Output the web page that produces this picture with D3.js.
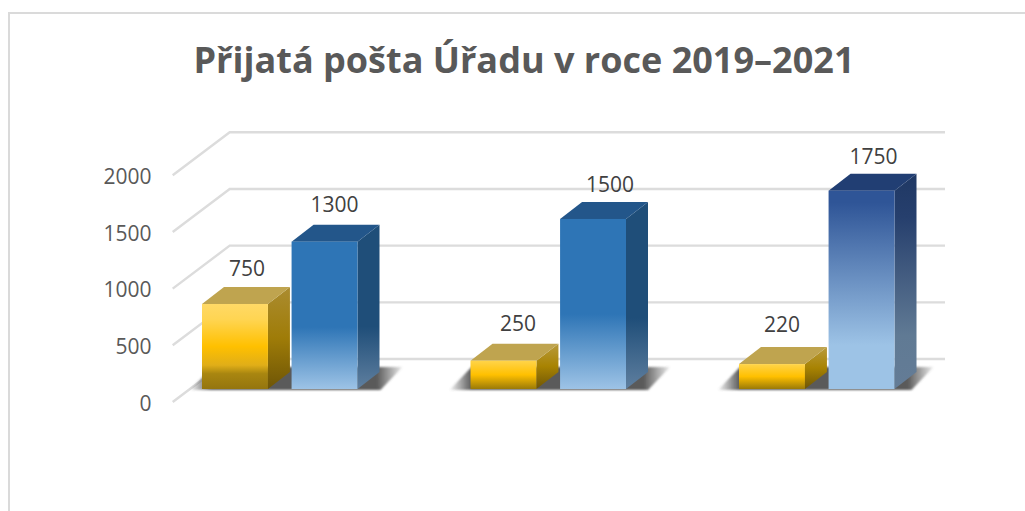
<!DOCTYPE html>
<html><head><meta charset="utf-8">
<script src="https://cdn.jsdelivr.net/npm/d3@7"></script>
<style>html,body{margin:0;padding:0;background:#fff;overflow:hidden}svg{display:block}</style>
</head><body><div id="c"></div>
<script>
const title = "Přijatá pošta Úřadu v roce 2019–2021";
const categories = ["2019", "2020", "2021"];
const seriesNames = ["a", "b"];
const seriesA = [750, 250, 220];
const seriesB = [1300, 1500, 1750];
const yTicks = [0, 500, 1000, 1500, 2000];

const W = 1025, H = 511;
const svg = d3.select("#c").append("svg").attr("width", W).attr("height", H);
const defs = svg.append("defs");
const y = d3.scaleLinear().domain([0, 2000]).range([389, 162.3]);
const x0 = d3.scaleBand().domain(categories).range([145.5, 951]);
const x1 = d3.scaleBand().domain(seriesNames).range([56.5, 212]).paddingInner(0.264);
const dx = 22, dy = -17, backDx = 57, backDy = -30, leftX = 172.7;
// label nudges relative to the front-top edge of each bar: [dx, dy]
const labelNudge = [[[12,-28.3],[10,-29.5]],[[14.5,-30],[17,-27]],[[10,-31.7],[12,-27]]];
// how far each floor shadow reaches left of / right of the group
const shadowReach = [[12,45],[21,44],[21,39]];

function grad(id, stops, horizontal) {
  const g = defs.append("linearGradient").attr("id", id).attr("x1", 0).attr("y1", 0)
    .attr("x2", horizontal ? 1 : 0).attr("y2", horizontal ? 0 : 1);
  stops.forEach(s => g.append("stop").attr("offset", s[0]).attr("stop-color", s[1]).attr("stop-opacity", s[2] === undefined ? 1 : s[2]));
}
const front = [
  [[[0,"#ffd966"],[.18,"#ffd552"],[.5,"#ffc000"],[.72,"#e0ae18"],[.82,"#a98610"],[1,"#94750f"]],
   [[0,"#2e75b6"],[.58,"#2e75b6"],[1,"#9dc3e6"]]],
  [[[0,"#ffd44a"],[.5,"#ffc000"],[1,"#9a7a08"]],
   [[0,"#2e75b6"],[.56,"#2e75b6"],[1,"#9dc3e6"]]],
  [[[0,"#ffd44a"],[.5,"#ffc000"],[1,"#9a7a08"]],
   [[0,"#2f5597"],[.06,"#2f5597"],[.78,"#9dc3e6"],[1,"#9dc3e6"]]]
];
const side = [
  [[[0,"#ab8c30"],[.5,"#9f7c08"],[1,"#6e5506"]],
   [[0,"#1f4e79"],[.62,"#1f4e79"],[1,"#5f7f9f"]]],
  [[[0,"#b89a3c"],[.5,"#a88302"],[1,"#6e5506"]],
   [[0,"#1f4e79"],[.62,"#1f4e79"],[1,"#5f7f9f"]]],
  [[[0,"#b89a3c"],[.5,"#a88302"],[1,"#6e5506"]],
   [[0,"#1f3864"],[.2,"#263f6d"],[.75,"#607a94"],[1,"#647c96"]]]
];
const topCol = [["#bfa44f","#23568a"],["#bfa44f","#23568a"],["#bfa44f","#213e73"]];
front.forEach((r,i)=>r.forEach((s,j)=>grad(`f${i}${j}`,s)));
side.forEach((r,i)=>r.forEach((s,j)=>grad(`s${i}${j}`,s)));
grad("sh",[[0,"#5a5a5a",.05],[.1,"#5a5a5a",1],[.88,"#5a5a5a",1],[1,"#5a5a5a",.1]],true);

const blur = defs.append("filter").attr("id","bl").attr("x","-20%").attr("y","-30%").attr("width","140%").attr("height","160%");
blur.append("feGaussianBlur").attr("stdDeviation",1.2);

// frame
svg.append("path").attr("d",`M9 ${H}V13H${W}`).attr("fill","none").attr("stroke","#dadada").attr("stroke-width",2);

// title
svg.append("text").attr("x",524).attr("y",73.3).attr("text-anchor","middle")
  .attr("font-family","'Open Sans'").attr("font-weight",700).attr("font-size",36.4)
  .attr("textLength",661).attr("lengthAdjust","spacingAndGlyphs")
  .attr("fill","#595959").text(title);

// gridlines
const grid = svg.append("g").attr("fill","none").attr("stroke","#dcdcdc").attr("stroke-width",2.4);
grid.selectAll("path").data(yTicks).join("path")
  .attr("d",v=>`M${leftX} ${y(v)+13}L${leftX+backDx} ${y(v)+backDy}H945`);

// y axis
const ax = svg.append("g").attr("transform","translate(151.5,14.5)")
  .call(d3.axisLeft(y).tickValues(yTicks).tickSize(0).tickPadding(0).tickFormat(d3.format("d")));
ax.select(".domain").remove();
ax.selectAll("text").attr("font-family","'Open Sans'").attr("font-size",21).attr("fill","#595959");

// floor shadows
const poly = pts => "M"+pts.map(p=>p.join(" ")).join("L")+"Z";
svg.append("g").selectAll("path").data(categories).join("path")
  .attr("filter","url(#bl)").attr("fill","url(#sh)")
  .attr("d",(c,i)=>{
    const l = x0(c)+x1("a"), r = x0(c)+x1("b")+x1.bandwidth();
    const [a,b] = shadowReach[i];
    return poly([[l-a,390],[r+b-22,390],[r+b,367],[l-a+22,367]]);
  });

// bars
const rows = categories.flatMap((c,i)=>[
  {c,i,j:0,s:"a",v:seriesA[i]},{c,i,j:1,s:"b",v:seriesB[i]}]);
const bw = x1.bandwidth();
const bars = svg.append("g").selectAll("g").data(rows).join("g")
  .attr("transform",d=>`translate(${x0(d.c)+x1(d.s)},0)`);
bars.append("path").attr("fill",d=>`url(#s${d.i}${d.j})`)
  .attr("d",d=>poly([[bw,y(d.v)],[bw+dx,y(d.v)+dy],[bw+dx,y(0)+dy],[bw,y(0)]]));
bars.append("path").attr("fill",d=>topCol[d.i][d.j])
  .attr("d",d=>poly([[0,y(d.v)],[dx,y(d.v)+dy],[bw+dx,y(d.v)+dy],[bw,y(d.v)]]));
bars.append("rect").attr("x",0).attr("width",bw).attr("y",d=>y(d.v)).attr("height",d=>y(0)-y(d.v))
  .attr("fill",d=>`url(#f${d.i}${d.j})`);
bars.append("text").attr("x",d=>bw/2+labelNudge[d.i][d.j][0]).attr("y",d=>y(d.v)+labelNudge[d.i][d.j][1]).attr("text-anchor","middle")
  .attr("font-family","'Open Sans'").attr("font-size",21).attr("fill","#404040").text(d=>d.v);
</script></body></html>
